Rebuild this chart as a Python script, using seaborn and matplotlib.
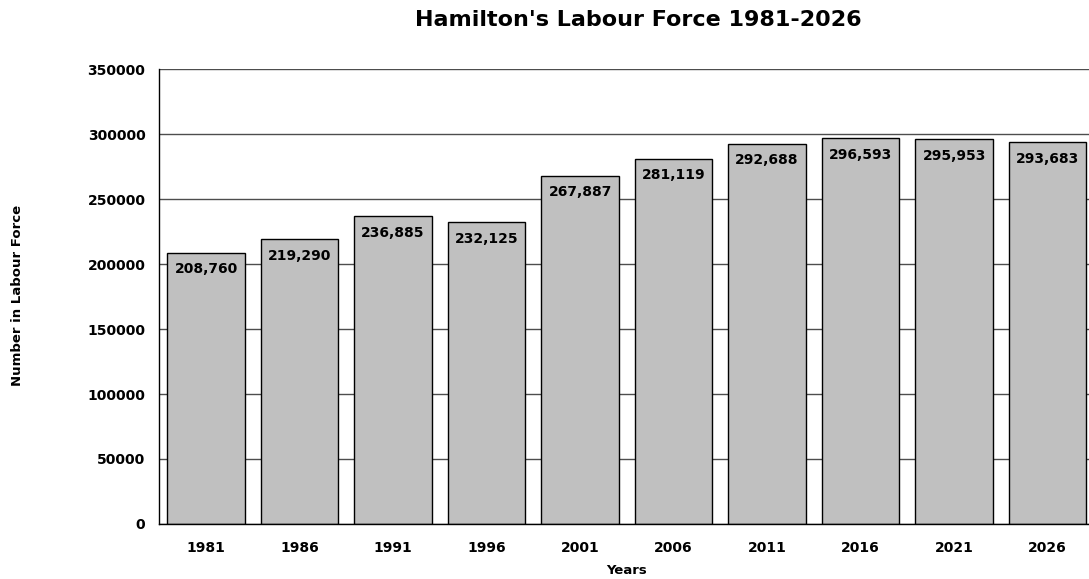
import matplotlib
matplotlib.use("Agg")
import matplotlib.pyplot as plt
import seaborn as sns
import pandas as pd
from matplotlib.ticker import FixedLocator

# Labour force counts by census year
years = ["1981", "1986", "1991", "1996", "2001", "2006", "2011", "2016", "2021", "2026"]
labour_force = [208760, 219290, 236885, 232125, 267887, 281119, 292688, 296593, 295953, 293683]
y_ticks = [0, 50000, 100000, 150000, 200000, 250000, 300000, 350000]

df = pd.DataFrame({"Year": years, "LabourForce": labour_force})

sns.set_theme(style="white")
plt.rcParams["font.family"] = ["DejaVu Sans"]
plt.rcParams["font.weight"] = "bold"
plt.rcParams["text.color"] = "black"
plt.rcParams["axes.labelcolor"] = "black"
plt.rcParams["xtick.color"] = "black"
plt.rcParams["ytick.color"] = "black"

W, H = 1089, 579
fig = plt.figure(figsize=(W / 100, H / 100), dpi=100)
ax = fig.add_axes([0.1463, 0.095, 0.8586, 0.7858])

ax.set_axisbelow(True)
ax.yaxis.grid(True, color="#4d4d4d", linewidth=1.0)
ax.xaxis.grid(False)

sns.barplot(data=df, x="Year", y="LabourForce", color="#C0C0C0", saturation=1,
            edgecolor="black", linewidth=1.0, width=0.83, ax=ax)

for i, v in enumerate(labour_force):
    ax.annotate(f"{v:,}", xy=(i, v), xytext=(0, -7), textcoords="offset points",
                ha="center", va="top", fontsize=10, fontweight="bold", color="black")

ax.set_xlim(-0.5, len(years) - 0.5)
ax.set_ylim(0, 350000)
ax.set_yticks(y_ticks)
ax.set_yticklabels([str(t) for t in y_ticks], fontsize=10, fontweight="bold")
ax.set_xticks(range(len(years)))
ax.set_xticklabels(years, fontsize=10, fontweight="bold")
ax.xaxis.set_minor_locator(FixedLocator([i - 0.5 for i in range(len(years) + 1)]))
ax.tick_params(axis="x", which="major", length=0, pad=12)
ax.tick_params(axis="x", which="minor", length=5, width=1, color="black", direction="out")
ax.tick_params(axis="y", which="major", length=5, width=1, color="black", direction="out", pad=5)

for side in ["top", "right"]:
    ax.spines[side].set_visible(False)
for side in ["left", "bottom"]:
    ax.spines[side].set_color("black")
    ax.spines[side].set_linewidth(1.0)

ax.set_xlabel("")
ax.set_ylabel("")
fig.text(627 / W, 1 - 571 / H, "Years", ha="center", va="center",
         fontsize=9.5, fontweight="bold")
fig.text(18 / W, 1 - 295 / H, "Number in Labour Force", ha="center", va="center",
         rotation=90, fontsize=9.5, fontweight="bold")

fig.text(638 / W, 1 - 20 / H, "Hamilton's Labour Force 1981-2026", ha="center",
         va="center", fontsize=16, fontweight="bold")

fig.savefig("out.png", dpi=100)
